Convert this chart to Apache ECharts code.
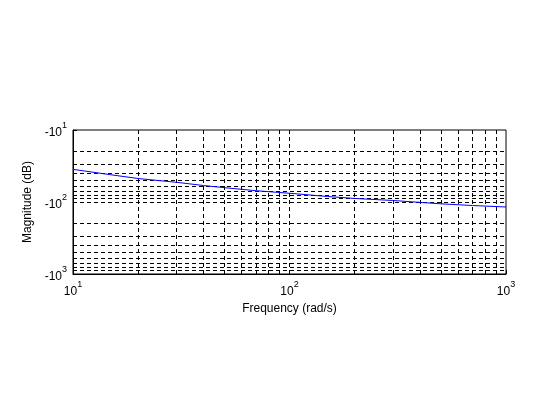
<!DOCTYPE html>
<html>
<head>
<meta charset="utf-8">
<script src="https://cdn.jsdelivr.net/npm/echarts@6/dist/echarts.min.js"></script>
<style>html,body{margin:0;padding:0;background:#fff}#c{width:560px;height:420px}</style>
</head>
<body>
<div id="c"></div>
<script>
// Frequency (rad/s)
const freq = [10, 15, 20, 30, 40, 50, 70, 100, 150, 200, 300, 500, 700, 1000];
// Magnitude (dB)
const magnitude = [-35.2, -41.9, -47.2, -53.2, -59.0, -63.2, -69.7, -75.6, -83.9, -89.3, -95.3, -106, -111.9, -117.3];
// Grid line positions (decade minors)
const xGridValues = [20, 30, 40, 50, 60, 70, 80, 90, 100, 200, 300, 400, 500, 600, 700, 800, 900];
const yGridValues = [20, 30, 40, 50, 60, 70, 80, 90, 100, 200, 300, 400, 500, 600, 700, 800, 900];
const xTickExps = {10: 1, 100: 2, 1000: 3};
const yTickExps = {10: 1, 100: 2, 1000: 3};

const FONT = 'Liberation Sans, Arial, Helvetica, sans-serif';
const rich = {
  b: {fontSize: 12, fontFamily: FONT, color: '#000', lineHeight: 18, verticalAlign: 'bottom'},
  s: {fontSize: 9, fontFamily: FONT, color: '#000', verticalAlign: 'top', lineHeight: 18}
};

const data = freq.map((f, i) => [f, Math.abs(magnitude[i])]);
const gridMarks = xGridValues.map(v => ({xAxis: v})).concat(yGridValues.map(v => ({yAxis: v})));

const chart = echarts.init(document.getElementById('c'), null, {renderer: 'canvas'});
chart.setOption({
  backgroundColor: '#fff',
  animation: false,
  grid: {left: 73, top: 130, right: 54, bottom: 146, show: true, borderColor: '#000', borderWidth: 1, containLabel: false},
  xAxis: {
    type: 'log', logBase: 10, min: 10, max: 1000,
    name: 'Frequency (rad/s)', nameLocation: 'middle', nameGap: 29,
    nameTextStyle: {fontSize: 12, fontFamily: FONT, color: '#000'},
    axisLine: {show: true, lineStyle: {color: '#000', width: 1}},
    axisTick: {show: true, inside: true, length: 4, lineStyle: {color: '#000'}},
    splitLine: {show: false},
    axisLabel: {
      margin: 6, color: '#000',
      formatter: v => '{b|10}{s|' + (xTickExps[Math.round(v)] ?? Math.round(Math.log10(v))) + '}',
      rich: rich
    }
  },
  yAxis: {
    type: 'log', logBase: 10, min: 10, max: 1000, inverse: true,
    name: 'Magnitude (dB)', nameLocation: 'middle', nameGap: 35,
    nameTextStyle: {fontSize: 12, fontFamily: FONT, color: '#000'},
    axisLine: {show: true, lineStyle: {color: '#000', width: 1}},
    axisTick: {show: true, inside: true, length: 4, lineStyle: {color: '#000'}},
    splitLine: {show: false},
    axisLabel: {
      margin: 6, color: '#000',
      formatter: v => '{b|-10}{s|' + (yTickExps[Math.round(v)] ?? Math.round(Math.log10(v))) + '}',
      rich: rich
    }
  },
  series: [{
    type: 'line',
    data: data,
    showSymbol: false,
    symbol: 'none',
    lineStyle: {color: '#0000ff', width: 1},
    z: 3,
    markLine: {
      silent: true,
      symbol: ['none', 'none'],
      label: {show: false},
      lineStyle: {color: '#000', width: 1, type: [4, 3]},
      emphasis: {disabled: true},
      data: gridMarks,
      z: 1
    }
  }]
});
</script>
</body>
</html>
